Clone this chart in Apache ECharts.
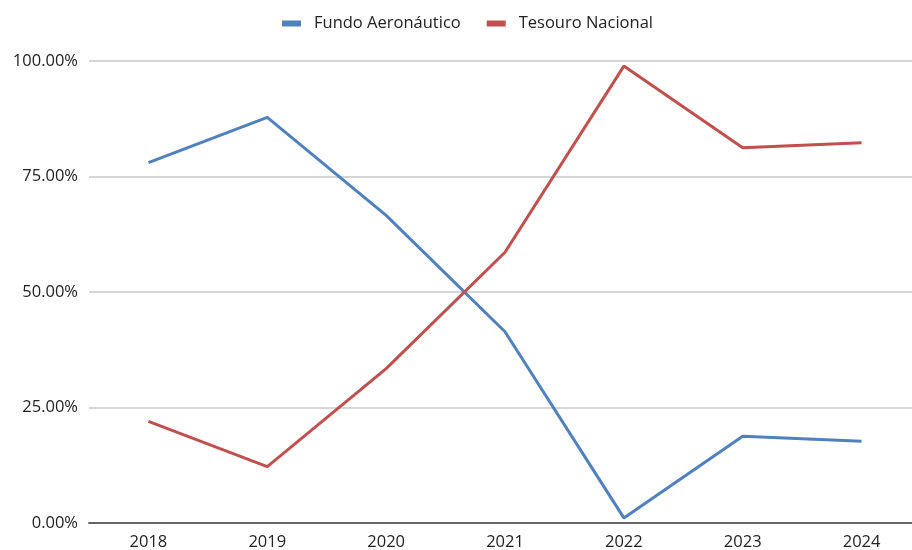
<!DOCTYPE html>
<html><head><meta charset="utf-8">
<script src="https://cdn.jsdelivr.net/npm/echarts@6/dist/echarts.min.js"></script>
<style>html,body{margin:0;padding:0;background:#fff}#c{width:912px;height:550px}</style>
</head><body><div id="c"></div>
<script>
const categories = ['2018','2019','2020','2021','2022','2023','2024'];
const fundoAeronautico = [78.0, 87.8, 66.6, 41.4, 1.1, 18.8, 17.7];
const tesouroNacional = [22.0, 12.2, 33.4, 58.6, 98.9, 81.2, 82.3];
const yTicks = [0, 25, 50, 75, 100];

const chart = echarts.init(document.getElementById('c'));
const font = 'Open Sans';
chart.setOption({
  animation: false,
  textStyle: {fontFamily: font},
  legend: {
    top: 10, left: 277, itemWidth: 19, itemHeight: 6, itemGap: 26,
    icon: 'rect',
    textStyle: {fontSize: 16.5, color: '#222', fontFamily: font, padding: [0, 0, 0, 8]},
    data: ['Fundo Aeronáutico', 'Tesouro Nacional']
  },
  grid: {left: 89, width: 832, top: 61, bottom: 27, containLabel: false, outerBoundsMode: 'none'},
  xAxis: {
    type: 'category', data: categories, boundaryGap: true,
    axisLine: {lineStyle: {color: '#666', width: 2}},
    axisTick: {show: false},
    axisLabel: {fontSize: 16.5, color: '#222', margin: 11, fontFamily: font}
  },
  yAxis: {
    type: 'value', min: yTicks[0], max: yTicks[yTicks.length-1], interval: 25,
    axisLine: {show: false}, axisTick: {show: false},
    splitLine: {lineStyle: {color: '#c8c8c8', width: 1.5}},
    axisLabel: {fontSize: 16.5, color: '#222', margin: 11, fontFamily: font,
      formatter: v => v.toFixed(2) + '%'}
  },
  series: [
    {name: 'Fundo Aeronáutico', type: 'line', data: fundoAeronautico, symbol: 'none',
     lineStyle: {color: '#4f81bd', width: 3}, itemStyle: {color: '#4f81bd'}},
    {name: 'Tesouro Nacional', type: 'line', data: tesouroNacional, symbol: 'none',
     lineStyle: {color: '#c0504d', width: 3}, itemStyle: {color: '#c0504d'}}
  ]
});
</script></body></html>
